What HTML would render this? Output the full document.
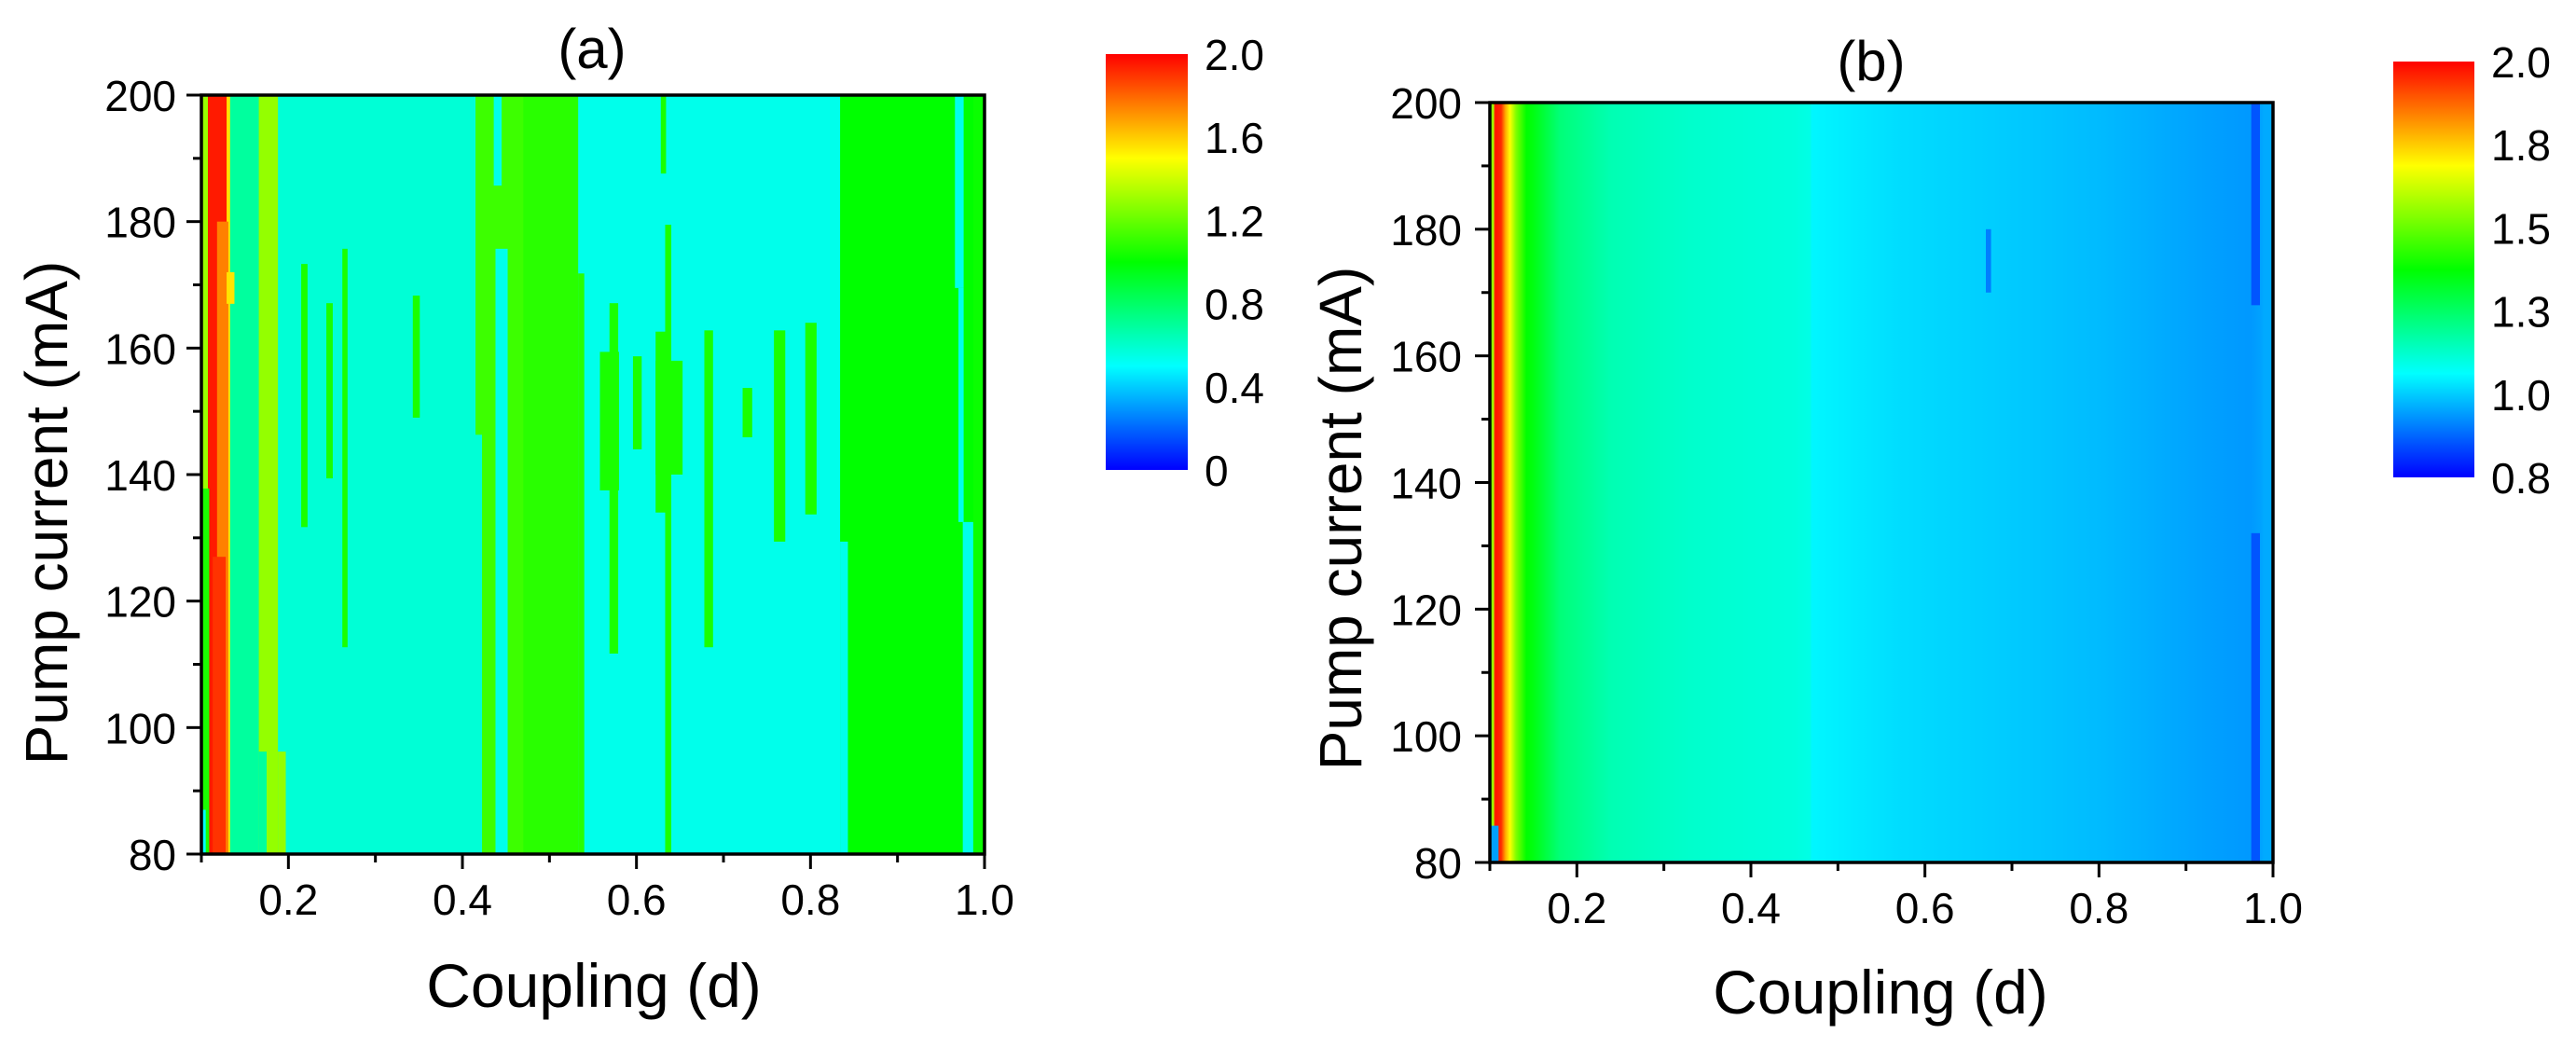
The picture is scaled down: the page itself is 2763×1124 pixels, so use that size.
<!DOCTYPE html>
<html><head><meta charset="utf-8"><style>
html,body{margin:0;padding:0;background:#fff;}
svg{display:block;font-family:"Liberation Sans",Arial,sans-serif;}
</style></head><body>
<svg id="fig" width="2763" height="1124" viewBox="0 0 2763 1124" xmlns="http://www.w3.org/2000/svg">
<defs id="defs"></defs>
<g id="panelA"></g>
<g id="panelB"></g>
</svg>
<script>
// ---- Panel (a) data ----
const aBandX0 = [0.100,0.1075,0.129,0.133,0.166,0.188,0.415,0.470,0.533,0.834,0.966,0.987];
const aBandX1 = [0.1075,0.129,0.133,0.166,0.188,0.415,0.470,0.533,0.834,0.966,0.987,1.000];
const aBandVal = [1.30,1.95,1.55,0.69,1.29,0.58,1.12,1.08,0.54,1.00,1.00,1.02];
// overrides: x0,x1 (coupling), y0,y1 (mA), value
const aPatchX0 = [0.100,0.101,0.118,0.113,0.129,0.166,0.188,0.415,0.436,0.438,0.533,0.834,0.966,0.970,0.975,
  0.2147,0.2436,0.262,0.343,0.558,0.569,0.596,0.622,0.622,0.628,0.633,0.678,0.722,0.758,0.794];
const aPatchX1 = [0.109,0.105,0.131,0.128,0.138,0.175,0.197,0.4225,0.445,0.452,0.540,0.843,0.976,0.976,0.987,
  0.222,0.251,0.268,0.351,0.580,0.579,0.606,0.653,0.636,0.634,0.640,0.688,0.733,0.771,0.807];
const aPatchY0 = [80,80,80,80,167,80,80,80,185.7,80,80,80,169.5,132.5,80,
  131.7,139.4,112.7,149,137.5,111.7,144,140,134,187.6,80,112.7,145.9,129.4,133.7];
const aPatchY1 = [137.8,87,180,127,172,96.2,96.2,146.3,200,175.7,171.8,129.4,200,169.5,132.5,
  173.3,167.1,175.7,168.3,159.4,167.1,158.7,158,162.6,200,179.5,162.8,153.7,162.8,164];
const aPatchVal = [1.05,0.50,1.75,1.90,1.55,0.69,1.29,0.58,0.54,0.54,1.08,0.54,0.54,0.54,0.54,
  1.05,1.05,1.05,1.05,1.05,1.05,1.05,1.05,1.05,1.05,1.05,1.05,1.05,1.05,1.05];
const aCbTicks = [0,0.4,0.8,1.2,1.6,2.0];
const aCbLabels = ["0","0.4","0.8","1.2","1.6","2.0"];

// ---- Panel (b) data ----
const bColX = [0.100,0.104,0.106,0.113,0.118,0.123,0.130,0.142,0.150,0.180,0.240,0.330,0.450,0.468,0.470,0.570,0.690,0.800,0.920,0.970,0.975,0.985,0.990,1.000];
const bColVal = [1.50,1.60,1.98,1.95,1.80,1.70,1.55,1.40,1.38,1.26,1.19,1.16,1.14,1.13,1.09,1.06,1.04,1.02,0.99,0.98,0.98,0.99,1.00,1.00];
const bPatchX0 = [0.100,0.975,0.975,0.670];
const bPatchX1 = [0.110,0.985,0.985,0.676];
const bPatchY0 = [80,168,80,170];
const bPatchY1 = [85.8,200,132,180];
const bPatchVal = [0.99,0.90,0.90,0.95];
const bCbTicks = [0.8,1.04,1.28,1.52,1.76,2.0];
const bCbLabels = ["0.8","1.0","1.3","1.5","1.8","2.0"];

const xTicks = [0.2,0.4,0.6,0.8,1.0];
const xMinor = [0.1,0.3,0.5,0.7,0.9];
const yTicks = [80,100,120,140,160,180,200];
const yMinor = [90,110,130,150,170,190];

const NS = "http://www.w3.org/2000/svg";
function mk(tag, attrs, parent){const e=document.createElementNS(NS,tag);for(const k in attrs)e.setAttribute(k,attrs[k]);parent.appendChild(e);return e;}
function lerp(a,b,t){return a+(b-a)*t;}
const jetCols=[[0,0,255],[0,255,255],[0,255,0],[255,255,0],[255,0,0]];
function cmap(v,vmin,vmax){
  let t=(v-vmin)/(vmax-vmin)*4; t=Math.max(0,Math.min(4,t));
  const i=Math.min(3,Math.floor(t)), f=t-i;
  const c=jetCols[i].map((x,k)=>Math.round(lerp(x,jetCols[i+1][k],f)));
  return `rgb(${c[0]},${c[1]},${c[2]})`;
}
function makePanel(g, L, R, T, B, vmin, vmax, pre){
  const sx=d=>L+(d-0.1)/0.9*(R-L);
  const sy=m=>B-(m-80)/120*(B-T);
  return {sx,sy,L,R,T,B,vmin,vmax,g,pre};
}
function axes(P, yLabX, yLabRight, yTitleX, yTitleY, xTitleX, xTitleY){
  const g=P.g;
  const frame=mk('rect',{x:P.L,y:P.T,width:P.R-P.L,height:P.B-P.T,fill:'none',stroke:'#000','stroke-width':3.5},g);
  
  
  xTicks.forEach((v,i)=>{
    const t=mk('line',{x1:P.sx(v),x2:P.sx(v),y1:P.B,y2:P.B+16,stroke:'#000','stroke-width':3},g);
    
    
    const tx=mk('text',{x:P.sx(v),y:P.B+65,'text-anchor':'middle','font-size':46},g);
    tx.textContent=v.toFixed(1);
    
    
  });
  xMinor.forEach(v=>{
    const t=mk('line',{x1:P.sx(v),x2:P.sx(v),y1:P.B,y2:P.B+9,stroke:'#000','stroke-width':3},g);
    
    
  });
  yTicks.forEach(v=>{
    const t=mk('line',{x1:P.L-16,x2:P.L,y1:P.sy(v),y2:P.sy(v),stroke:'#000','stroke-width':3},g);
    
    
    const tx=mk('text',{x:yLabRight,y:P.sy(v)+17,'text-anchor':'end','font-size':46},g);
    tx.textContent=String(v);
    
    
  });
  yMinor.forEach(v=>{
    const t=mk('line',{x1:P.L-9,x2:P.L,y1:P.sy(v),y2:P.sy(v),stroke:'#000','stroke-width':3},g);
    
    
  });
  const yt=mk('text',{x:0,y:0,'text-anchor':'middle','font-size':64,transform:`translate(${yTitleX},${yTitleY}) rotate(-90)`},g);
  yt.textContent='Pump current (mA)';
  
  
  const xt=mk('text',{x:xTitleX,y:xTitleY,'text-anchor':'middle','font-size':66},g);
  xt.textContent='Coupling (d)';
  
  
}
function colorbar(P, x, w, top, bot, ticks, labels, labX){
  const g=P.g, defs=document.getElementById('defs');
  const gid=P.pre+'-cbgrad';
  const lg=mk('linearGradient',{id:gid,x1:0,y1:1,x2:0,y2:0},defs);
  for(let k=0;k<=40;k++){const v=P.vmin+(P.vmax-P.vmin)*k/40;mk('stop',{offset:k/40,'stop-color':cmap(v,P.vmin,P.vmax)},lg);}
  const r=mk('rect',{x:x,y:top,width:w,height:bot-top,fill:`url(#${gid})`},g);
  
  
  ticks.forEach((v,i)=>{
    const y=bot-(v-P.vmin)/(P.vmax-P.vmin)*(bot-top);
    const t=mk('text',{x:labX,y:y+17,'font-size':46},g);
    t.textContent=labels[i];
    
    
  });
}

// Panel A
const gA=document.getElementById('panelA');
const PA=makePanel(gA,216,1056,102,916,0,2,'a');
aBandVal.forEach((v,i)=>{
  const r=mk('rect',{x:PA.sx(aBandX0[i]),y:PA.T,width:PA.sx(aBandX1[i])-PA.sx(aBandX0[i])+0.5,height:PA.B-PA.T,fill:cmap(v,0,2)},gA);
  
  
});
aPatchVal.forEach((v,i)=>{
  const r=mk('rect',{x:PA.sx(aPatchX0[i]),y:PA.sy(aPatchY1[i]),width:PA.sx(aPatchX1[i])-PA.sx(aPatchX0[i]),height:PA.sy(aPatchY0[i])-PA.sy(aPatchY1[i]),fill:cmap(v,0,2)},gA);
  
  
});
axes(PA,0,189,72,550,637,1080);
colorbar(PA,1186,88,58,504,aCbTicks,aCbLabels,1292);
const tA=mk('text',{x:635,y:73,'text-anchor':'middle','font-size':60},gA);
tA.textContent='(a)';



// Panel B
const gB=document.getElementById('panelB');
const PB=makePanel(gB,1598,2438,110,925,0.8,2.0,'b');
const defs=document.getElementById('defs');
const bg=mk('linearGradient',{id:'b-heat',gradientUnits:'userSpaceOnUse',x1:PB.L,y1:0,x2:PB.R,y2:0},defs);
bColX.forEach((d,i)=>{mk('stop',{offset:(d-0.1)/0.9,'stop-color':cmap(bColVal[i],0.8,2.0)},bg);});
const rb=mk('rect',{x:PB.L,y:PB.T,width:PB.R-PB.L,height:PB.B-PB.T,fill:'url(#b-heat)'},gB);


bPatchVal.forEach((v,i)=>{
  const r=mk('rect',{x:PB.sx(bPatchX0[i]),y:PB.sy(bPatchY1[i]),width:PB.sx(bPatchX1[i])-PB.sx(bPatchX0[i]),height:PB.sy(bPatchY0[i])-PB.sy(bPatchY1[i]),fill:cmap(v,0.8,2.0)},gB);
  
  
});
axes(PB,0,1568,1460,556,2017,1087);
colorbar(PB,2567,87,66,512,bCbTicks,bCbLabels,2672);
const tB=mk('text',{x:2007,y:86,'text-anchor':'middle','font-size':60},gB);
tB.textContent='(b)';


</script>
</body></html>
